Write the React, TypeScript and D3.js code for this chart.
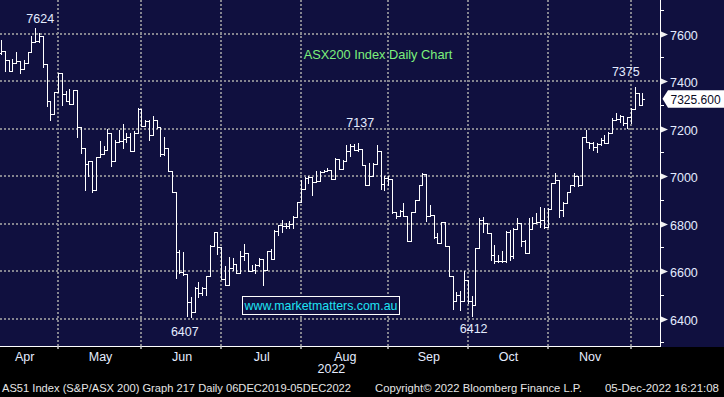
import React from 'react';
import { scaleLinear, timeDay, timeFormat } from 'd3';

// ASX200 daily OHLC, 5 Apr 2022 - 5 Dec 2022
const opens = [
  7519, 7528, 7491, 7441, 7476, 7484, 7451, 7476, 7523, 7565,
  7568, 7592, 7472, 7318, 7262, 7354, 7434, 7347, 7318, 7304,
  7363, 7207, 7119, 7051, 7062, 6942, 7079, 7093, 7112, 7182,
  7064, 7142, 7147, 7158, 7165, 7106, 7182, 7284, 7213, 7234,
  7175, 7238, 7207, 7093, 7119, 7020, 6932, 6682, 6598, 6588,
  6472, 6430, 6528, 6507, 6528, 6580, 6706, 6764, 6700, 6566,
  6542, 6612, 6629, 6591, 6665, 6675, 6602, 6605, 6625, 6651,
  6606, 6684, 6651, 6770, 6793, 6789, 6789, 6800, 6828, 6890,
  6946, 6991, 6995, 6975, 6978, 7016, 7023, 7027, 6988, 7072,
  7030, 7065, 7105, 7128, 7112, 7116, 7048, 6964, 6999, 7053,
  7105, 6968, 6992, 6988, 6848, 6832, 6855, 6832, 6726, 6848,
  6901, 6964, 7011, 6834, 6838, 6742, 6719, 6806, 6707, 6578,
  6473, 6501, 6473, 6564, 6473, 6459, 6698, 6817, 6802, 6759,
  6668, 6644, 6644, 6644, 6766, 6664, 6776, 6802, 6729, 6675,
  6776, 6804, 6809, 6816, 6785, 6862, 6970, 6984, 6858, 6889,
  6935, 6963, 7001, 6963, 7166, 7145, 7141, 7124, 7136, 7152,
  7138, 7183, 7237, 7240, 7255, 7223, 7251, 7282, 7352, 7298,
];
const highs = [
  7575, 7528, 7491, 7493, 7523, 7486, 7491, 7523, 7589, 7624,
  7603, 7592, 7472, 7318, 7354, 7434, 7434, 7357, 7367, 7364,
  7363, 7207, 7119, 7062, 7062, 7079, 7148, 7128, 7200, 7182,
  7151, 7196, 7220, 7182, 7182, 7192, 7287, 7284, 7238, 7238,
  7252, 7238, 7207, 7164, 7119, 7020, 6932, 6690, 6680, 6588,
  6493, 6535, 6556, 6535, 6580, 6710, 6764, 6764, 6700, 6620,
  6660, 6655, 6629, 6684, 6715, 6676, 6625, 6630, 6655, 6651,
  6684, 6695, 6775, 6796, 6817, 6803, 6810, 6831, 6891, 6985,
  6995, 6999, 6995, 7023, 7023, 7027, 7034, 7027, 7076, 7072,
  7069, 7133, 7137, 7135, 7140, 7116, 7048, 7055, 7055, 7133,
  7105, 6999, 6999, 6988, 6848, 6859, 6887, 6832, 6848, 6901,
  6964, 7013, 7011, 6880, 6838, 6761, 6806, 6806, 6707, 6578,
  6511, 6515, 6599, 6564, 6494, 6698, 6824, 6830, 6802, 6759,
  6710, 6668, 6686, 6769, 6773, 6780, 6823, 6802, 6731, 6823,
  6830, 6844, 6872, 6865, 6865, 6970, 7012, 6984, 6893, 6935,
  6963, 7012, 7001, 7166, 7195, 7145, 7145, 7138, 7159, 7173,
  7188, 7244, 7265, 7258, 7255, 7251, 7286, 7375, 7352, 7352,
];
const lows = [
  7514, 7441, 7441, 7441, 7476, 7434, 7451, 7476, 7523, 7565,
  7565, 7458, 7294, 7235, 7262, 7354, 7301, 7315, 7304, 7304,
  7164, 7098, 6940, 6999, 6933, 6942, 7079, 7093, 7112, 7044,
  7064, 7142, 7119, 7142, 7105, 7106, 7182, 7210, 7213, 7154,
  7175, 7203, 7086, 7091, 7020, 6932, 6570, 6592, 6585, 6413,
  6407, 6430, 6493, 6500, 6500, 6580, 6706, 6672, 6566, 6542,
  6542, 6605, 6591, 6591, 6648, 6602, 6599, 6592, 6620, 6543,
  6606, 6651, 6651, 6754, 6763, 6782, 6782, 6782, 6828, 6890,
  6946, 6971, 6922, 6975, 6978, 7016, 7020, 6988, 6988, 7030,
  7030, 7065, 7083, 7112, 7108, 7048, 6964, 6964, 6999, 7053,
  6946, 6943, 6964, 6845, 6824, 6832, 6832, 6726, 6726, 6848,
  6901, 6964, 6810, 6834, 6740, 6719, 6719, 6707, 6578, 6441,
  6473, 6438, 6473, 6466, 6412, 6459, 6698, 6767, 6759, 6647,
  6636, 6640, 6640, 6640, 6647, 6654, 6776, 6704, 6675, 6675,
  6776, 6802, 6787, 6780, 6785, 6860, 6970, 6830, 6832, 6889,
  6935, 6960, 6959, 6963, 7145, 7117, 7110, 7103, 7131, 7138,
  7138, 7180, 7237, 7230, 7216, 7202, 7223, 7282, 7298, 7298,
];
const closes = [
  7528, 7491, 7441, 7476, 7484, 7451, 7476, 7523, 7565, 7568,
  7592, 7472, 7318, 7262, 7354, 7434, 7347, 7318, 7304, 7363,
  7207, 7119, 7051, 7062, 6942, 7079, 7093, 7112, 7182, 7064,
  7142, 7147, 7158, 7165, 7106, 7182, 7284, 7213, 7234, 7175,
  7238, 7207, 7093, 7119, 7020, 6932, 6682, 6598, 6588, 6472,
  6430, 6528, 6507, 6528, 6580, 6706, 6764, 6700, 6566, 6542,
  6612, 6629, 6591, 6665, 6675, 6602, 6605, 6625, 6651, 6606,
  6684, 6651, 6770, 6793, 6789, 6789, 6800, 6828, 6890, 6946,
  6991, 6995, 6975, 6978, 7016, 7023, 7027, 6988, 7072, 7030,
  7065, 7105, 7128, 7112, 7116, 7048, 6964, 6999, 7053, 7105,
  6968, 6992, 6988, 6848, 6832, 6855, 6832, 6726, 6848, 6901,
  6964, 7011, 6834, 6838, 6742, 6719, 6806, 6707, 6578, 6473,
  6501, 6473, 6564, 6473, 6459, 6698, 6817, 6802, 6759, 6668,
  6644, 6644, 6644, 6766, 6664, 6776, 6802, 6729, 6675, 6776,
  6804, 6809, 6816, 6785, 6862, 6970, 6984, 6858, 6889, 6935,
  6963, 7001, 6963, 7166, 7145, 7141, 7124, 7136, 7152, 7138,
  7183, 7237, 7240, 7255, 7223, 7251, 7282, 7352, 7298, 7325.6,
];

const holidays = ['2022-04-15', '2022-04-18', '2022-04-25', '2022-06-13', '2022-09-22'];
const firstDay = '2022-04-05';
const monthLabels = ['Apr', 'May', 'Jun', 'Jul', 'Aug', 'Sep', 'Oct', 'Nov'];
const yLabels = [6400, 6600, 6800, 7000, 7200, 7400, 7600];
const yMinor = [6300, 6500, 6700, 6900, 7100, 7300, 7500, 7700];
// bar index + value for the high/low call-outs
const callouts = [
  { i: 9, text: '7624' },
  { i: 50, text: '6407' },
  { i: 92, text: '7137' },
  { i: 124, text: '6412' },
  { i: 167, text: '7375' },
];
const calloutOffset: Record<string, [number, number]> = {
  '7624': [5, -5],
  '6407': [-6, 19],
  '7137': [10, -17],
  '6412': [2, 17],
  '7375': [-9, -11],
};

const title = 'ASX200 Index Daily Chart';
const website = 'www.marketmatters.com.au';
const yearLabel = '2022';
const footerLeft = 'AS51 Index (S&P/ASX 200) Graph 217  Daily 06DEC2019-05DEC2022';
const footerMid = 'Copyright\u00A9 2022 Bloomberg Finance L.P.';
const footerRight = '05-Dec-2022 16:21:08';

const W = 724;
const H = 397;
const plotRight = 660;
const plotBottom = 346;
const bg = '#10103f';
const grid = '#85858f';
const labelColor = '#e4ecff';
const font = '"Liberation Sans", Arial, sans-serif';

const fmt = timeFormat('%Y-%m-%d');
const calendar = timeDay
  .range(new Date(2022, 3, 1), new Date(2022, 11, 31))
  .filter((d) => d.getDay() !== 0 && d.getDay() !== 6 && !holidays.includes(fmt(d)));
const startIdx = calendar.findIndex((d) => fmt(d) === firstDay);

export default function App() {
  const x = scaleLinear()
    .domain([startIdx, startIdx + closes.length - 1])
    .range([1.07, 1.07 + (closes.length - 1) * 3.795]);
  const y = scaleLinear().domain([6400, 7600]).range([318.7, 33.7]);
  const bx = (i: number) => x(startIdx + i);
  const px = (v: number) => Math.round(v) + 0.5;

  // first trading day of each month (Apr..Dec)
  const monthFirst = [3, 4, 5, 6, 7, 8, 9, 10, 11].map((m) =>
    calendar.findIndex((d) => d.getMonth() === m)
  );
  const gridXs = monthFirst.slice(1).map((f) => Math.round(x(f - 1)));
  const labelXs = monthLabels.map((_, k) => (x(monthFirst[k]) + x(monthFirst[k + 1])) / 2 - 3);

  const last = closes[closes.length - 1];
  const ly = y(last);

  return (
    <svg
      width={W}
      height={H}
      style={{ position: 'absolute', left: 0, top: 0, display: 'block' }}
      fontFamily={font}
    >
      <defs>
        <clipPath id="plot">
          <rect x={0} y={0} width={plotRight} height={plotBottom} />
        </clipPath>
      </defs>
      <rect width={W} height={H} fill="#000" />
      <rect width={W} height={plotBottom + 1} fill={bg} />

      {/* grid */}
      <g stroke={grid} strokeWidth={2} strokeDasharray="2 2">
        {yLabels.map((v) => (
          <line key={`h${v}`} x1={0} x2={plotRight} y1={Math.round(y(v))} y2={Math.round(y(v))} />
        ))}
        {gridXs.map((gx) => (
          <line key={`v${gx}`} x1={gx} x2={gx} y1={0} y2={plotBottom} />
        ))}
      </g>

      <text x={378} y={58.5} fill="#7cf07c" fontSize={12.8} textAnchor="middle">
        {title}
      </text>

      {/* OHLC bars */}
      <g clipPath="url(#plot)" stroke="#fff" strokeWidth={1} shapeRendering="crispEdges">
        {closes.map((c, i) => {
          const cx = px(bx(i));
          return (
            <g key={i}>
              <line x1={cx} x2={cx} y1={Math.round(y(highs[i]))} y2={Math.round(y(lows[i])) + 1} />
              <line x1={cx - 2} x2={cx} y1={px(y(opens[i]))} y2={px(y(opens[i]))} />
              <line x1={cx} x2={cx + 2.5} y1={px(y(c))} y2={px(y(c))} />
            </g>
          );
        })}
      </g>

      {/* call-outs */}
      {callouts.map(({ i, text }) => {
        const v = Number(text);
        const [dx, dy] = calloutOffset[text];
        return (
          <text
            key={text}
            x={bx(i) + dx}
            y={y(v) + dy}
            fill={labelColor}
            fontSize={12.5}
            textAnchor="middle"
          >
            {text}
          </text>
        );
      })}

      {/* website box */}
      <rect x={242.5} y={296.5} width={157} height={18} fill={bg} stroke="#fff" strokeWidth={1} />
      <text x={321} y={309.5} fill="#1ee4f4" fontSize={12.4} textAnchor="middle">
        {website}
      </text>

      {/* right axis */}
      <line x1={plotRight + 0.5} x2={plotRight + 0.5} y1={0} y2={plotBottom + 1} stroke="#fff" />
      {yMinor.map((v) => (
        <line
          key={`m${v}`}
          x1={plotRight}
          x2={plotRight + 4}
          y1={px(y(v))}
          y2={px(y(v))}
          stroke="#fff"
        />
      ))}
      {yLabels.map((v) => {
        const yy = Math.round(y(v)) + 0.5;
        return (
          <g key={`l${v}`}>
            <polygon
              points={`${plotRight + 1},${yy - 3} ${plotRight + 1},${yy + 3} ${plotRight + 8},${yy}`}
              fill="#f0f0f0"
            />
            <text x={plotRight + 10} y={yy + 5} fill={labelColor} fontSize={12.5}>
              {v}
            </text>
          </g>
        );
      })}

      {/* last value tag */}
      <polygon
        points={`${plotRight + 2.5},${ly} ${plotRight + 8},${ly - 8.5} ${W},${ly - 8.5} ${W},${ly + 9} ${plotRight + 8},${ly + 9}`}
        fill="#fff"
      />
      <text x={plotRight + 10.5} y={ly + 5} fill="#0a0a1e" fontSize={12}>
        {last.toFixed(3)}
      </text>

      {/* bottom axis */}
      <line x1={0} x2={plotRight + 1} y1={plotBottom + 0.5} y2={plotBottom + 0.5} stroke="#fff" />
      {gridXs.map((gx) => (
        <line key={`t${gx}`} x1={gx} x2={gx} y1={plotBottom} y2={plotBottom + 3} stroke="#c8c8c8" strokeWidth={1.5} />
      ))}
      {monthLabels.map((m, k) => (
        <text key={m} x={labelXs[k]} y={361} fill={labelColor} fontSize={12.5} textAnchor="middle">
          {m}
        </text>
      ))}
      <text x={labelXs[4]} y={372.5} fill={labelColor} fontSize={12.5} textAnchor="end">
        {yearLabel}
      </text>

      {/* footer */}
      <text x={2} y={391.5} fill="#e6e6e6" fontSize={11.3} textLength={349} lengthAdjust="spacingAndGlyphs">
        {footerLeft}
      </text>
      <text x={375} y={391.5} fill="#e6e6e6" fontSize={11.3} textLength={207} lengthAdjust="spacingAndGlyphs">
        {footerMid}
      </text>
      <text x={605} y={391.5} fill="#e6e6e6" fontSize={11.3} textLength={114} lengthAdjust="spacingAndGlyphs">
        {footerRight}
      </text>
    </svg>
  );
}
